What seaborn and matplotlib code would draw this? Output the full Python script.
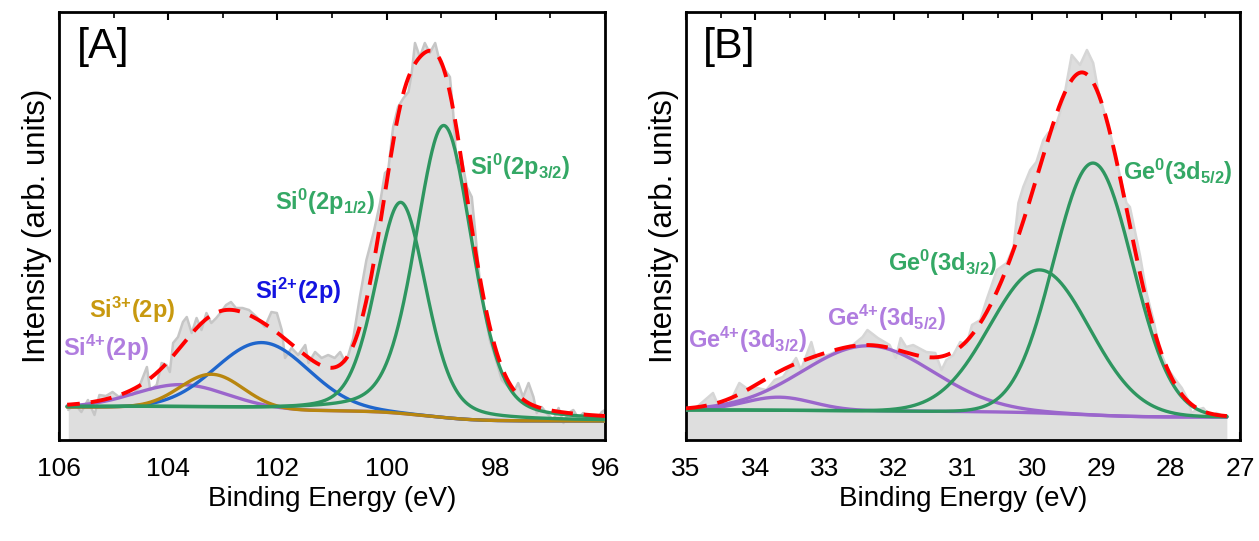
import numpy as np
import matplotlib
matplotlib.use("Agg")
import matplotlib.pyplot as plt
import seaborn as sns
from matplotlib.ticker import MultipleLocator

# ---------------- Panel A : Si 2p ----------------
si_energy = [105.83, 105.71, 105.59, 105.47, 105.35, 105.26, 105.14, 105.02, 104.90, 104.78,
             104.66, 104.54, 104.39, 104.33, 104.21, 104.12, 104.03, 103.97, 103.91, 103.82,
             103.73, 103.66, 103.57, 103.48, 103.39, 103.30, 103.21, 103.12, 103.03, 102.94,
             102.85, 102.76, 102.64, 102.52, 102.38, 102.23, 102.11, 102.01, 101.92, 101.86,
             101.74, 101.62, 101.49, 101.43, 101.31, 101.19, 101.07, 100.95, 100.85, 100.76,
             100.70, 100.61, 100.49, 100.37, 100.24, 100.12, 100.03, 99.97, 99.88, 99.79,
             99.69, 99.60, 99.54, 99.48, 99.39, 99.30, 99.21, 99.11, 99.02, 98.93,
             98.84, 98.78, 98.72, 98.62, 98.53, 98.44, 98.38, 98.29, 98.20, 98.11,
             97.98, 97.89, 97.77, 97.68, 97.59, 97.50, 97.40, 97.31, 97.25, 97.16,
             97.07, 96.95, 96.85, 96.76, 96.67, 96.58, 96.49, 96.40, 96.28, 96.15,
             96.06, 96.00]
si_counts = [30, 36, 28, 40, 25, 45, 44, 48, 43, 48,
             45, 52, 73, 50, 55, 77, 75, 68, 97, 103,
             118, 123, 107, 122, 110, 127, 117, 122, 128, 135,
             138, 132, 132, 130, 123, 113, 128, 127, 110, 82,
             92, 85, 95, 77, 88, 82, 85, 82, 88, 78,
             85, 102, 143, 180, 207, 237, 267, 270, 313, 333,
             342, 348, 367, 397, 383, 397, 387, 397, 377, 370,
             363, 327, 277, 280, 253, 243, 210, 157, 127, 100,
             77, 60, 53, 47, 57, 43, 57, 43, 27, 33,
             27, 20, 32, 17, 27, 30, 22, 27, 22, 20,
             28, 30]
si_names = ["Si4+", "Si2+", "Si3+", "Si0 1/2", "Si0 3/2"]
si_centers = [103.75, 102.28, 103.20, 99.74, 98.95]
si_fwhm = [2.00, 2.00, 1.36, 1.10, 1.23]
si_heights = [23, 67, 34, 211, 292]
si_eta = [0.0, 0.0, 0.0, 0.3, 0.3]
si_bg = [33, 19]          # background at high BE / low BE end
si_range = [105.85, 96.0]

# ---------------- Panel B : Ge 3d ----------------
ge_energy = [35.00, 34.86, 34.61, 34.52, 34.37, 34.23, 34.09, 33.97, 33.84, 33.72,
             33.60, 33.41, 33.34, 33.19, 33.12, 33.03, 32.88, 32.74, 32.59, 32.45,
             32.38, 32.23, 32.06, 31.97, 31.90, 31.82, 31.72, 31.53, 31.40, 31.31,
             31.24, 31.14, 31.04, 30.95, 30.87, 30.75, 30.66, 30.51, 30.37, 30.27,
             30.20, 30.13, 30.03, 29.94, 29.84, 29.77, 29.67, 29.60, 29.53, 29.43,
             29.31, 29.21, 29.12, 29.05, 28.97, 28.85, 28.73, 28.64, 28.59, 28.52,
             28.44, 28.35, 28.25, 28.16, 28.06, 27.96, 27.84, 27.75, 27.70, 27.63,
             27.53, 27.43, 27.34, 27.22, 27.19]
ge_counts = [28, 32, 47, 32, 37, 57, 50, 52, 50, 60,
             63, 82, 70, 98, 80, 83, 87, 92, 95, 103,
             110, 102, 95, 82, 102, 93, 95, 88, 87, 70,
             80, 85, 98, 95, 115, 120, 140, 170, 177, 193,
             237, 253, 270, 278, 300, 307, 312, 327, 347, 385,
             375, 390, 377, 350, 330, 300, 263, 237, 233, 210,
             183, 147, 120, 90, 73, 63, 52, 40, 27, 30,
             32, 23, 27, 23, 23]
ge_names = ["Ge4+ 3/2", "Ge4+ 5/2", "Ge0 3/2", "Ge0 5/2"]
ge_centers = [33.66, 32.37, 29.89, 29.12]
ge_fwhm = [1.16, 2.22, 1.69, 1.34]
ge_heights = [13, 65, 143, 252]
ge_eta = [0.0, 0.0, 0.0, 0.0]
ge_bg = [30, 23]
ge_range = [35.0, 27.19]

# ---------------- styling ----------------
sns.set_style("ticks")
plt.rcParams["font.family"] = ["Liberation Sans", "DejaVu Sans"]
plt.rcParams["mathtext.fontset"] = "custom"
plt.rcParams["mathtext.rm"] = "Liberation Sans:bold"
plt.rcParams["mathtext.it"] = "Liberation Sans:bold"
plt.rcParams["mathtext.bf"] = "Liberation Sans:bold"
plt.rcParams["mathtext.sf"] = "Liberation Sans:bold"
plt.rcParams["text.color"] = "black"
plt.rcParams["axes.labelcolor"] = "black"
plt.rcParams["xtick.color"] = "black"
plt.rcParams["xtick.labelcolor"] = "black"

GREEN = "#2e9660"
GREEN_T = "#34a865"
PURPLE = "#9b66cc"
PURPLE_T = "#b07ddf"
BLUE = "#1f66cc"
BLUE_T = "#1414e0"
GOLD = "#b8860f"
GOLD_T = "#c8990f"
RED = "#ff0000"
FILL = "#dedede"
EDGE = "#c6c6c6"


def pvoigt(x, c, w, h, eta):
    g = np.exp(-4 * np.log(2) * (x - c) ** 2 / w ** 2)
    lz = 1.0 / (1 + 4 * (x - c) ** 2 / w ** 2)
    return h * ((1 - eta) * g + eta * lz)


def model(rng, centers, fwhm, heights, eta, bg):
    x = np.linspace(min(rng), max(rng), 800)
    comps = [pvoigt(x, c, w, h, e) for c, w, h, e in zip(centers, fwhm, heights, eta)]
    total = np.sum(comps, axis=0)
    cum = np.cumsum(total) / np.sum(total)   # Shirley-type step (x ascending = low BE first)
    back = bg[1] + (bg[0] - bg[1]) * cum
    return x, [cp + back for cp in comps], total + back


fig = plt.figure(figsize=(12.59, 5.41), dpi=100)
axA = fig.add_axes([59 / 1259, 1 - 440 / 541, 546 / 1259, 428 / 541])
axB = fig.add_axes([686 / 1259, 1 - 440 / 541, 554 / 1259, 428 / 541])


def draw(ax, energy, counts, rng, centers, fwhm, heights, eta, bg, colors, edge):
    ax.fill_between(energy, 0, counts, color=FILL, lw=0, zorder=1)
    sns.lineplot(x=energy, y=counts, ax=ax, color=edge, lw=1.8, sort=False,
                 errorbar=None, zorder=2)
    x, comps, env = model(rng, centers, fwhm, heights, eta, bg)
    for cp, col in zip(comps, colors):
        sns.lineplot(x=x, y=cp, ax=ax, color=col, lw=2.4, errorbar=None, zorder=3)
    sns.lineplot(x=x, y=env, ax=ax, color=RED, lw=2.8, errorbar=None, zorder=4)
    ax.lines[-1].set_dashes([5.5, 2.8])


draw(axA, si_energy, si_counts, si_range, si_centers, si_fwhm, si_heights, si_eta, si_bg,
     [PURPLE, BLUE, GOLD, GREEN, GREEN], EDGE)
draw(axB, ge_energy, ge_counts, ge_range, ge_centers, ge_fwhm, ge_heights, ge_eta, ge_bg,
     [PURPLE, PURPLE, GREEN, GREEN], "#d6d6d6")

for ax, xl, major, minor in [(axA, (106, 96), 2, 1), (axB, (35, 27), 1, 0.5)]:
    ax.set_xlim(*xl)
    ax.set_ylim(0, 428)
    ax.set_yticks([])
    ax.xaxis.set_major_locator(MultipleLocator(major))
    ax.xaxis.set_minor_locator(MultipleLocator(minor))
    ax.tick_params(axis="x", which="major", direction="in", length=6, width=1.5,
                   labelsize=19, top=True, pad=12)
    ax.tick_params(axis="x", which="minor", direction="in", length=4, width=1.2, top=True)
    for s in ax.spines.values():
        s.set_linewidth(2.0)
        s.set_color("black")
    ax.set_xlabel("Binding Energy (eV)", fontsize=20, labelpad=4)
    ax.set_ylabel("Intensity (arb. units)", fontsize=22.5, labelpad=5)

axA.text(105.67, 393, "[A]", fontsize=31, ha="left", va="center")
axB.text(34.75, 393, "[B]", fontsize=31, ha="left", va="center")

fs = 17
kw = dict(fontsize=fs, ha="left", va="center", fontweight="bold")
axA.text(105.93, 92, "Si$^{4{+}}$(2p)", color=PURPLE_T, **kw)
axA.text(105.45, 130, "Si$^{3{+}}$(2p)", color=GOLD_T, **kw)
axA.text(102.41, 149, "Si$^{2{+}}$(2p)", color=BLUE_T, **kw)
axA.text(102.05, 238, "Si$^{0}$(2p$_{1/2}$)", color=GREEN_T, **kw)
axA.text(98.47, 273, "Si$^{0}$(2p$_{3/2}$)", color=GREEN_T, **kw)

axB.text(34.97, 100, "Ge$^{4{+}}$(3d$_{3/2}$)", color=PURPLE_T, **kw)
axB.text(32.96, 122, "Ge$^{4{+}}$(3d$_{5/2}$)", color=PURPLE_T, **kw)
axB.text(32.08, 177, "Ge$^{0}$(3d$_{3/2}$)", color=GREEN_T, **kw)
axB.text(28.69, 268, "Ge$^{0}$(3d$_{5/2}$)", color=GREEN_T, **kw)

fig.savefig("out.png", dpi=100)
